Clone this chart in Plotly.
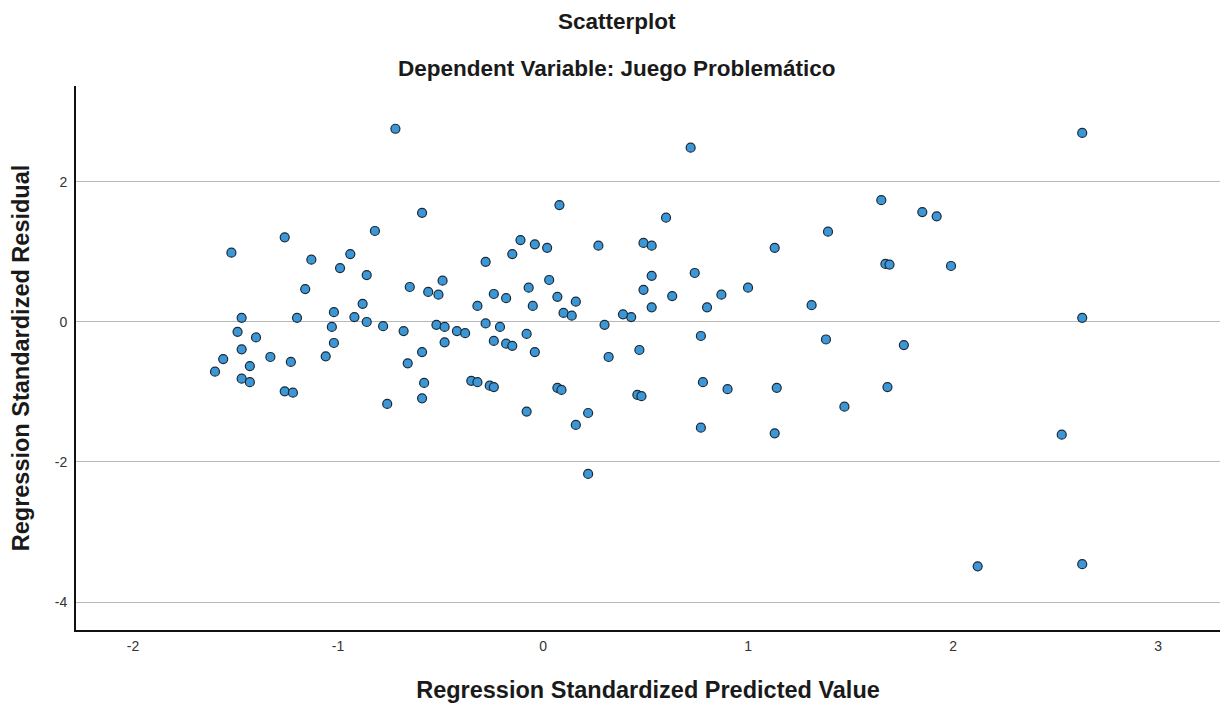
import plotly.graph_objects as go

predicted = [
    -0.72, 0.72, 2.63, 0.08, 0.60, 1.65, 1.85, 1.92, 1.39, 1.13,
    0.49, 0.53, 1.67, 1.69, 0.53, 0.74, 0.49, 0.63, 0.87, 1.00,
    1.31, 1.99, 2.63, 1.76, 2.53, 0.53, 0.80, 0.43, 0.39, 0.77,
    1.38, 0.47, 0.78, 0.90, 1.14, 1.68, 1.47, 0.46, 0.48, 0.77,
    1.13, -0.65, -0.56, -0.51, -0.49, -0.07, 0.03, -0.24, -0.18, 0.07,
    0.16, -0.88, -0.32, -0.05, 0.10, 0.14, -0.92, -0.86, -0.78, -0.68,
    -0.52, -0.48, -0.42, -0.38, -0.28, -0.21, 0.30, -0.08, -0.48, -0.24,
    -0.18, -0.15, -0.04, -0.59, -0.66, 0.32, -0.58, -0.35, -0.32, -0.26,
    -0.24, 0.07, 0.09, -0.59, -0.76, -0.08, 0.22, 0.16, 0.22, -0.59,
    -0.82, -0.11, -0.04, 0.02, -0.15, 0.27, -0.94, -0.28, -0.86, -1.26,
    -1.52, -1.13, -0.99, -1.16, -1.47, -1.20, -1.02, -1.49, -1.40, -1.03,
    -1.02, -1.47, -1.56, -1.33, -1.23, -1.06, -1.60, -1.43, -1.47, -1.43,
    -1.26, -1.22, 2.12, 2.63,
]
residual = [
    2.76, 2.49, 2.70, 1.67, 1.49, 1.74, 1.57, 1.51, 1.29, 1.06,
    1.13, 1.09, 0.83, 0.82, 0.66, 0.70, 0.46, 0.37, 0.39, 0.49,
    0.24, 0.80, 0.06, -0.33, -1.61, 0.21, 0.21, 0.07, 0.11, -0.20,
    -0.25, -0.40, -0.86, -0.96, -0.94, -0.93, -1.21, -1.04, -1.06, -1.51,
    -1.59, 0.50, 0.43, 0.39, 0.59, 0.49, 0.60, 0.40, 0.34, 0.36,
    0.29, 0.26, 0.23, 0.23, 0.13, 0.09, 0.07, 0.00, -0.06, -0.13,
    -0.04, -0.07, -0.13, -0.16, -0.02, -0.07, -0.04, -0.17, -0.29, -0.27,
    -0.31, -0.34, -0.43, -0.43, -0.59, -0.50, -0.87, -0.84, -0.86, -0.91,
    -0.93, -0.94, -0.97, -1.09, -1.17, -1.28, -1.30, -1.47, -2.17, 1.56,
    1.30, 1.17, 1.11, 1.06, 0.97, 1.09, 0.97, 0.86, 0.67, 1.21,
    0.99, 0.89, 0.77, 0.47, 0.06, 0.06, 0.14, -0.14, -0.22, -0.07,
    -0.30, -0.39, -0.53, -0.50, -0.57, -0.49, -0.71, -0.63, -0.81, -0.86,
    -0.99, -1.01, -3.49, -3.46,
]

x_tickvals = [-2, -1, 0, 1, 2, 3]
x_ticktext = ["-2", "-1", "0", "1", "2", "3"]
y_tickvals = [-4, -2, 0, 2]
y_ticktext = ["-4", "-2", "0", "2"]

title_main = "Scatterplot"
title_sub = "Dependent Variable: Juego Problemático"
x_title = "Regression Standardized Predicted Value"
y_title = "Regression Standardized Residual"

FONT = "Liberation Sans, Arial, sans-serif"

fig = go.Figure()
fig.add_trace(go.Scatter(
    x=predicted, y=residual, mode="markers",
    marker=dict(size=9, color="#3b97d6", line=dict(color="#1c2a38", width=1.2)),
    showlegend=False, hoverinfo="x+y",
))

fig.update_layout(
    width=1221, height=706,
    margin=dict(l=76, r=1, t=86, b=76),
    paper_bgcolor="white", plot_bgcolor="white",
    font=dict(family=FONT, color="#222222"),
    annotations=[
        dict(text="<b>%s</b>" % title_main, xref="paper", yref="paper",
             x=0.473, y=1.0, yshift=65, xanchor="center", yanchor="middle",
             showarrow=False, font=dict(size=22.5, family=FONT, color="#1a1a1a")),
        dict(text="<b>%s</b>" % title_sub, xref="paper", yref="paper",
             x=0.473, y=1.0, yshift=18, xanchor="center", yanchor="middle",
             showarrow=False, font=dict(size=22.5, family=FONT, color="#1a1a1a")),
    ],
)

fig.update_xaxes(
    range=[-2.278, 3.302], tickvals=x_tickvals, ticktext=x_ticktext,
    showgrid=False, zeroline=False, automargin=False,
    showline=True, linecolor="#111111", linewidth=1.8,
    ticks="outside", ticklen=2, tickcolor="rgba(0,0,0,0)",
    tickfont=dict(size=14, family=FONT, color="#333333"),
    title=dict(text="<b>%s</b>" % x_title, font=dict(size=23.5, family=FONT, color="#1a1a1a"), standoff=29),
)
fig.update_yaxes(
    range=[-4.4, 3.371], tickvals=y_tickvals, ticktext=y_ticktext,
    showgrid=True, gridcolor="#b8b8b8", gridwidth=1, zeroline=False, automargin=False,
    showline=True, linecolor="#111111", linewidth=1.8,
    ticks="outside", ticklen=4, tickcolor="rgba(0,0,0,0)",
    tickfont=dict(size=14, family=FONT, color="#333333"),
    title=dict(text="<b>%s</b>" % y_title, font=dict(size=23.5, family=FONT, color="#1a1a1a"), standoff=19),
)

fig.write_html("out.html", config={"displayModeBar": False},
               post_script="document.body.style.margin='0';")
